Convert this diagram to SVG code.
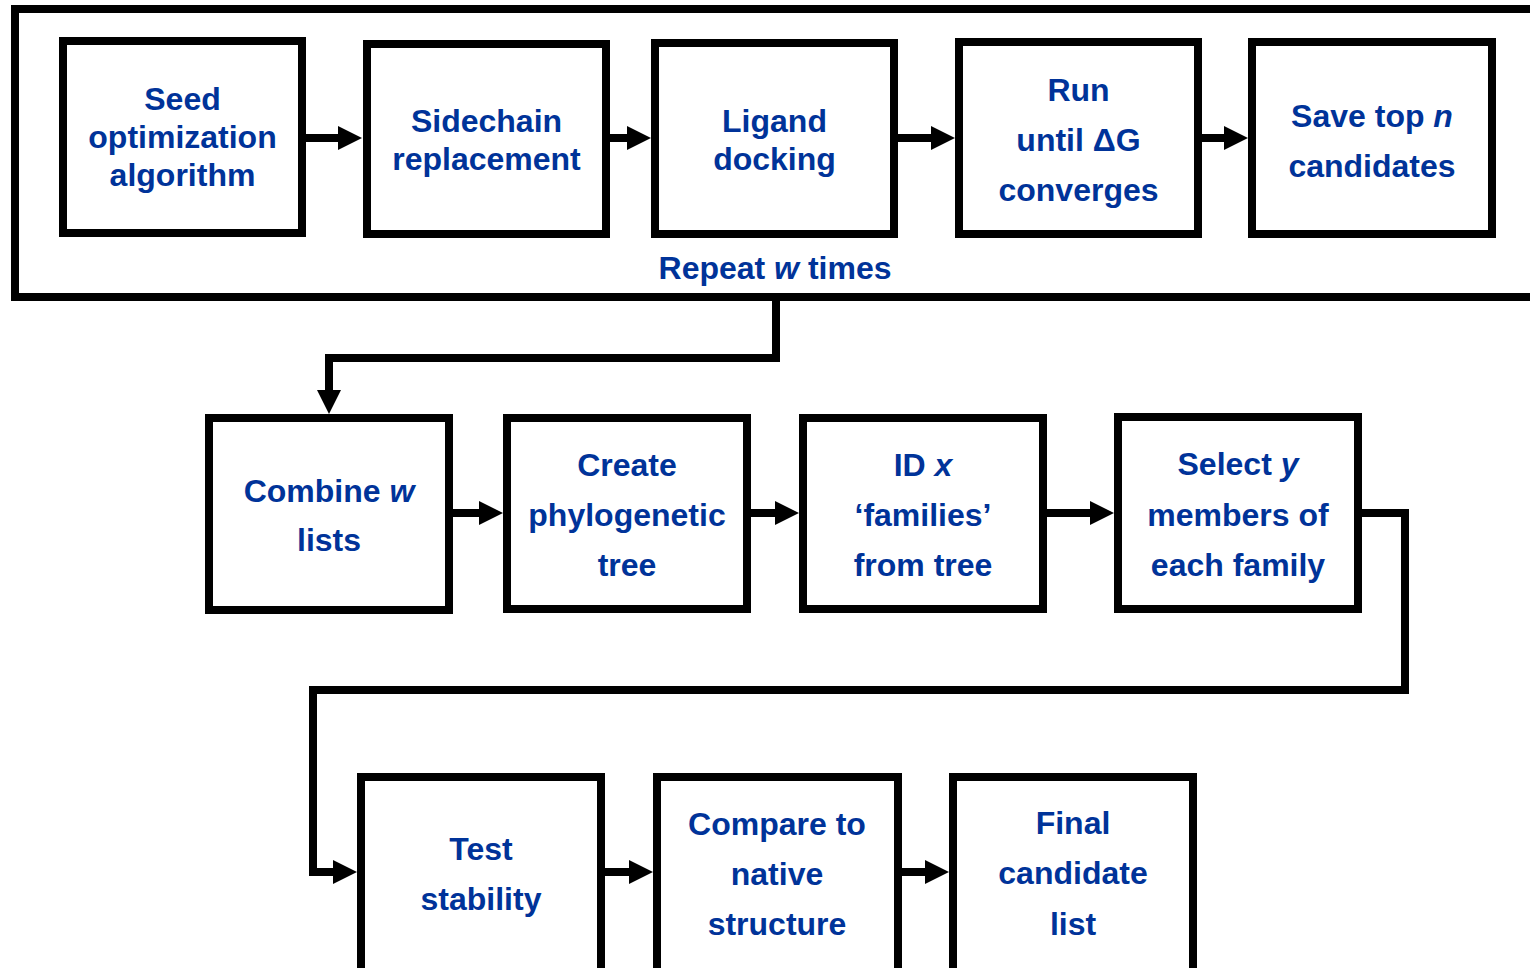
<svg xmlns="http://www.w3.org/2000/svg" width="1530" height="968" viewBox="0 0 1530 968">
<style>
.box{fill:#ffffff;stroke:#000000;stroke-width:8}
.outer{fill:none;stroke:#000000;stroke-width:8}
.t{font-family:"Liberation Sans",Arial,sans-serif;font-weight:bold;font-size:32px;fill:#003399;text-anchor:middle}
.i{font-style:italic}
.c{fill:none;stroke:#000000;stroke-width:8;stroke-linejoin:miter;marker-end:url(#ah)}
</style>
<defs>
<marker id="ah" markerUnits="userSpaceOnUse" markerWidth="24" markerHeight="24" refX="0" refY="12" orient="auto" viewBox="0 0 24 24">
<path d="M0,0 L24,12 L0,24 Z" fill="#000000"/>
</marker>
</defs>
<rect width="1530" height="968" fill="#ffffff"/>
<g id="repeat-loop">
<rect class="outer" x="15" y="9" width="1530" height="288"/>
<text class="t" x="775" y="279">Repeat <tspan class="i">w</tspan> times</text>
</g>
<g id="seed">
<rect class="box" x="63" y="41" width="239" height="192"/>
<text class="t" x="182.5" y="110">Seed</text>
<text class="t" x="182.5" y="148">optimization</text>
<text class="t" x="182.5" y="186">algorithm</text>
</g>
<g id="sidechain">
<rect class="box" x="367" y="44" width="239" height="190"/>
<text class="t" x="486.5" y="132">Sidechain</text>
<text class="t" x="486.5" y="170">replacement</text>
</g>
<g id="ligand">
<rect class="box" x="655" y="43" width="239" height="191"/>
<text class="t" x="774.5" y="132">Ligand</text>
<text class="t" x="774.5" y="170">docking</text>
</g>
<g id="run">
<rect class="box" x="959" y="42" width="239" height="192"/>
<text class="t" x="1078.5" y="101">Run</text>
<text class="t" x="1078.5" y="151">until ΔG</text>
<text class="t" x="1078.5" y="201">converges</text>
</g>
<g id="save">
<rect class="box" x="1252" y="42" width="240" height="192"/>
<text class="t" x="1372" y="127">Save top <tspan class="i">n</tspan></text>
<text class="t" x="1372" y="177">candidates</text>
</g>
<g id="combine">
<rect class="box" x="209" y="418" width="240" height="192"/>
<text class="t" x="329" y="502">Combine <tspan class="i">w</tspan></text>
<text class="t" x="329" y="551">lists</text>
</g>
<g id="create">
<rect class="box" x="507" y="418" width="240" height="191"/>
<text class="t" x="627" y="476">Create</text>
<text class="t" x="627" y="526">phylogenetic</text>
<text class="t" x="627" y="576">tree</text>
</g>
<g id="identify">
<rect class="box" x="803" y="418" width="240" height="191"/>
<text class="t" x="923" y="476">ID <tspan class="i">x</tspan></text>
<text class="t" x="923" y="526">‘families’</text>
<text class="t" x="923" y="576">from tree</text>
</g>
<g id="select">
<rect class="box" x="1118" y="417" width="240" height="192"/>
<text class="t" x="1238" y="475">Select <tspan class="i">y</tspan></text>
<text class="t" x="1238" y="526">members of</text>
<text class="t" x="1238" y="576">each family</text>
</g>
<g id="test">
<rect class="box" x="361" y="777" width="240" height="200"/>
<text class="t" x="481" y="860">Test</text>
<text class="t" x="481" y="910">stability</text>
</g>
<g id="compare">
<rect class="box" x="657" y="777" width="241" height="200"/>
<text class="t" x="777" y="835">Compare to</text>
<text class="t" x="777" y="885">native</text>
<text class="t" x="777" y="935">structure</text>
</g>
<g id="final">
<rect class="box" x="953" y="777" width="240" height="200"/>
<text class="t" x="1073" y="834">Final</text>
<text class="t" x="1073" y="884">candidate</text>
<text class="t" x="1073" y="935">list</text>
</g>
<g id="connectors">
<path class="c" d="M306,138 H338"/>
<path class="c" d="M610,138 H627"/>
<path class="c" d="M898,138 H931"/>
<path class="c" d="M1202,138 H1224"/>
<path class="c" d="M776,301 V358 H329 V390"/>
<path class="c" d="M453,513 H479"/>
<path class="c" d="M751,513 H775"/>
<path class="c" d="M1047,513 H1090"/>
<path class="c" d="M1362,513 H1405 V690 H313 V872 H333"/>
<path class="c" d="M605,872 H629"/>
<path class="c" d="M902,872 H925"/>
</g>
</svg>
